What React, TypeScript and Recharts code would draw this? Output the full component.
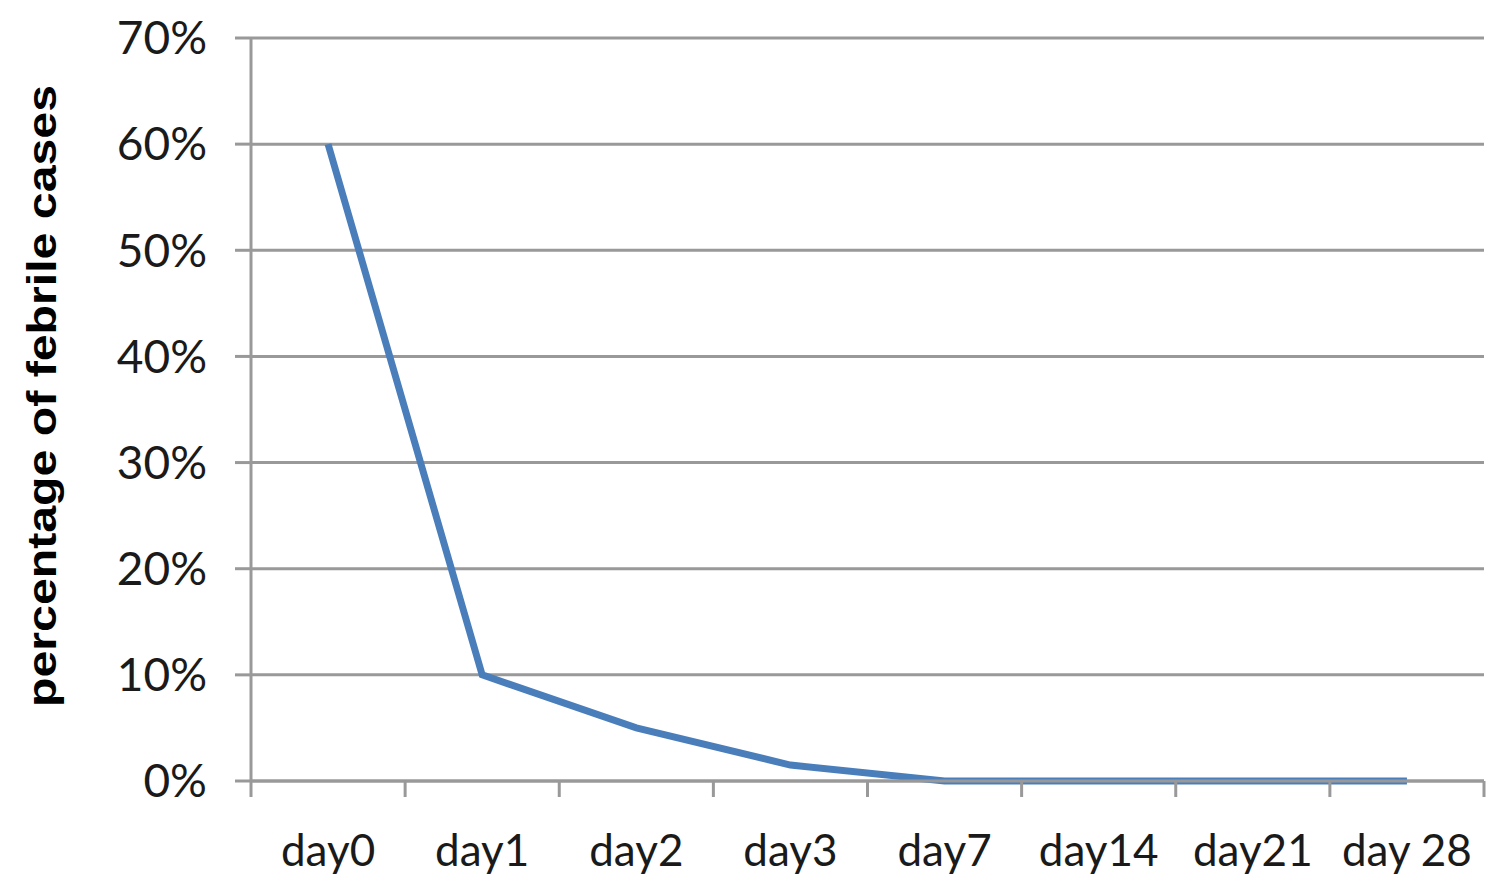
import React from "react";
import { LineChart, Line, XAxis, YAxis, CartesianGrid, Label } from "recharts";

const days = ["day0", "day1", "day2", "day3", "day7", "day14", "day21", "day 28"];
const febrilePct = [60, 10, 5, 1.5, 0, 0, 0, 0];
const yTicks = [0, 10, 20, 30, 40, 50, 60, 70];

const data = days.map((day, i) => ({ day, febrile: febrilePct[i] }));

const W = 1500;
const H = 889;
const YAXIS_W = 251;
const RIGHT = 16;
const TOP = 38;
const XAXIS_H = 108;
const GRAY = "#999999";
const bandW = (W - YAXIS_W - RIGHT) / days.length;

const DayTick = (props: any) => {
  const { x, y, payload, index } = props;
  const axisY = y - 16;
  return (
    <g>
      <line x1={x - bandW / 2} x2={x - bandW / 2} y1={axisY} y2={axisY + 16} stroke={GRAY} strokeWidth={3} />
      {index === days.length - 1 && (
        <line x1={x + bandW / 2} x2={x + bandW / 2} y1={axisY} y2={axisY + 16} stroke={GRAY} strokeWidth={3} />
      )}
      <text x={x} y={y + 69} textAnchor="middle" fontFamily="Lato" fontSize={44} fill="#1a1a1a">
        {payload.value}
      </text>
    </g>
  );
};

const YTitle = () => {
  const cx = 56;
  const cy = 396;
  return (
    <text
      transform={`rotate(-90 ${cx} ${cy})`}
      x={cx}
      y={cy}
      textAnchor="middle"
      fontFamily="Liberation Sans"
      fontWeight="bold"
      fontSize={41}
      textLength={622}
      lengthAdjust="spacingAndGlyphs"
      fill="#000"
    >
      percentage of febrile cases
    </text>
  );
};

export default function App() {
  return (
    <div style={{ position: "absolute", left: 0, top: 0, background: "#fff" }}>
      <LineChart width={W} height={H} data={data} margin={{ top: TOP, right: RIGHT, bottom: 0, left: 0 }}>
        <CartesianGrid vertical={false} stroke={GRAY} strokeWidth={3} />
        <XAxis
          dataKey="day"
          scale="band"
          height={XAXIS_H}
          stroke={GRAY}
          strokeWidth={3}
          tickLine={false}
          tickSize={16}
          tickMargin={0}
          interval={0}
          tick={<DayTick />}
        />
        <YAxis
          width={YAXIS_W}
          domain={[0, 70]}
          ticks={yTicks}
          tickFormatter={(v: number) => `${v}%`}
          stroke={GRAY}
          strokeWidth={3}
          tickSize={16}
          tickMargin={28}
          tick={{ fontFamily: "Lato", fontSize: 46, fill: "#1a1a1a" }}
        >
          <Label content={<YTitle />} />
        </YAxis>
        <Line
          type="linear"
          dataKey="febrile"
          stroke="#4a7ebb"
          strokeWidth={7}
          dot={false}
          isAnimationActive={false}
        />
      </LineChart>
    </div>
  );
}
